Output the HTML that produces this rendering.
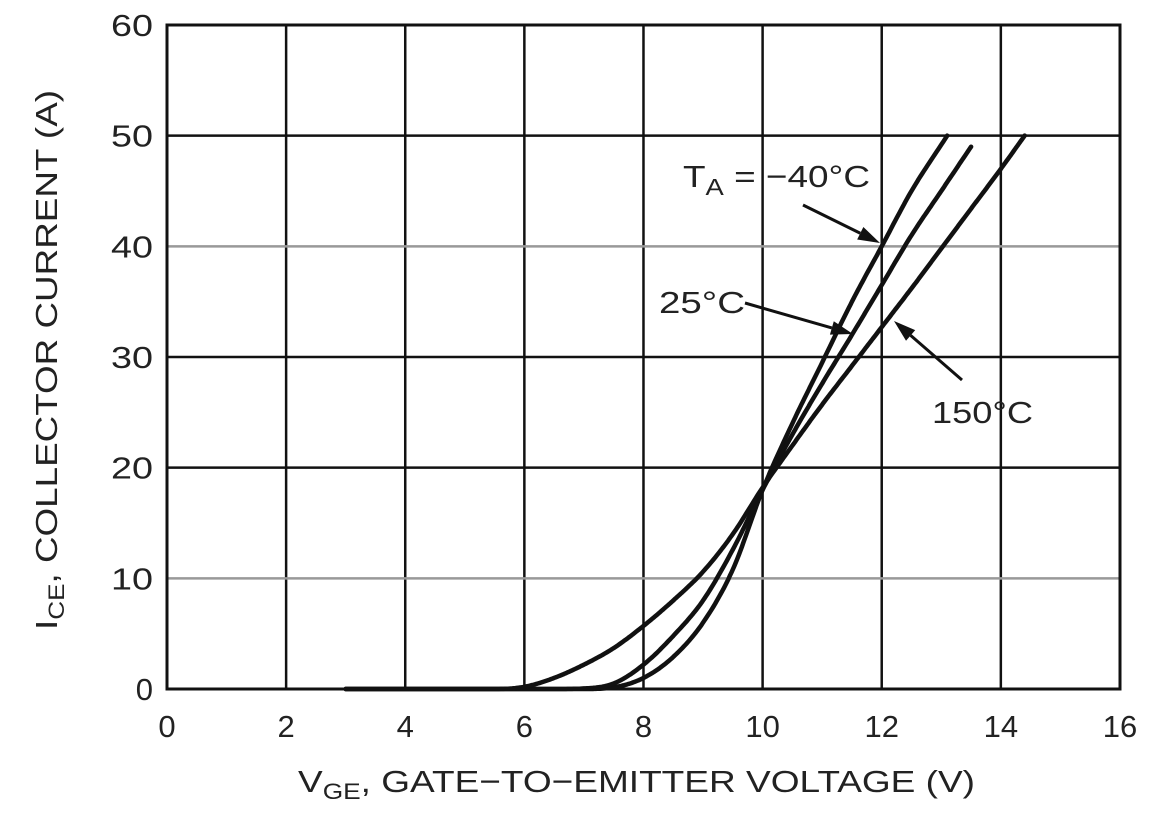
<!DOCTYPE html>
<html><head><meta charset="utf-8"><style>
body{margin:0;background:#fff}
svg text{font-family:"Liberation Sans",Arial,sans-serif;fill:#222}
</style></head><body>
<svg id="s" width="1157" height="819" viewBox="0 0 1157 819" xmlns="http://www.w3.org/2000/svg">
<g id="grid" stroke-width="2.5"></g>
<rect x="167" y="25" width="953" height="664" fill="none" stroke="#111" stroke-width="3"/>
<g id="curves" fill="none" stroke="#111" stroke-width="4.5" stroke-linejoin="round" stroke-linecap="round"></g>
<g font-size="31" text-anchor="end" id="yt"></g>
<g font-size="31" text-anchor="middle" id="xt"></g>
<text x="298" y="792" font-size="31" textLength="677" lengthAdjust="spacingAndGlyphs">V<tspan font-size="22" dy="7">GE</tspan><tspan dy="-7">, GATE−TO−EMITTER VOLTAGE (V)</tspan></text>
<text transform="translate(57,630) rotate(-90)" font-size="31" textLength="540" lengthAdjust="spacingAndGlyphs">I<tspan font-size="22" dy="7">CE</tspan><tspan dy="-7">, COLLECTOR CURRENT (A)</tspan></text>
<text x="683" y="187" font-size="31" textLength="187" lengthAdjust="spacingAndGlyphs">T<tspan font-size="23" dy="8">A</tspan><tspan dy="-8"> = −40°C</tspan></text>
<text x="659" y="313" font-size="31" textLength="86" lengthAdjust="spacingAndGlyphs">25°C</text>
<text x="932" y="423" font-size="31" textLength="101" lengthAdjust="spacingAndGlyphs">150°C</text>
<g id="arr" stroke="#111" stroke-width="3"></g>
</svg>
<script>
const X=v=>167+v*59.56, Y=v=>689-v*11.067;
const g=document.getElementById('grid');let h='';
for(let i=1;i<8;i++)h+=`<line x1="${X(2*i)}" y1="25" x2="${X(2*i)}" y2="689" stroke="#111"/>`;
for(let j=1;j<6;j++){const c=(j==1||j==4)?'#999':'#111';h+=`<line x1="167" y1="${Y(10*j)}" x2="1120" y2="${Y(10*j)}" stroke="${c}"/>`;}
g.innerHTML=h;
let yt='';for(let j=0;j<=6;j++)yt+=`<text x="153" y="${Y(10*j)+11}" ${j?'textLength="42" lengthAdjust="spacingAndGlyphs"':''}>${10*j}</text>`;
document.getElementById('yt').innerHTML=yt;
let xt='';for(let i=0;i<=8;i++)xt+=`<text x="${X(2*i)}" y="737">${2*i}</text>`;
document.getElementById('xt').innerHTML=xt;
const data=[
[[3,0],[6.5,0],[7,0],[7.5,0.15],[8,1],[8.5,2.9],[9,6],[9.5,10.8],[10,18],[10.5,24],[11,29.5],[11.5,35],[12,40],[12.5,45],[13.1,50]],
[[3,0],[6.5,0],[7,0.05],[7.5,0.5],[8,2.2],[8.5,4.8],[9,8],[9.5,12.6],[10,18],[10.5,23],[11,27.6],[11.5,32],[12,36.5],[12.5,41],[13,45],[13.5,49]],
[[3,0],[5.5,0],[6,0.2],[6.5,1],[7,2.2],[7.5,3.7],[8,5.7],[8.5,8],[9,10.6],[9.5,14],[10,18.2],[10.5,22],[11,25.7],[11.5,29.2],[12,32.7],[12.5,36.2],[13,39.8],[13.5,43.4],[14,47],[14.4,50]]];
function mono(d){const n=d.length,xs=d.map(p=>p[0]),ys=d.map(p=>p[1]);const dl=[],m=[];
for(let i=0;i<n-1;i++)dl.push((ys[i+1]-ys[i])/(xs[i+1]-xs[i]));
m[0]=dl[0];m[n-1]=dl[n-2];for(let i=1;i<n-1;i++)m[i]=(dl[i-1]*dl[i]<=0)?0:(dl[i-1]+dl[i])/2;
for(let i=0;i<n-1;i++){if(dl[i]==0){m[i]=m[i+1]=0;continue;}const a=m[i]/dl[i],b=m[i+1]/dl[i],s=a*a+b*b;if(s>9){const t=3/Math.sqrt(s);m[i]=t*a*dl[i];m[i+1]=t*b*dl[i];}}
let pts=[];for(let i=0;i<n-1;i++){const hh=xs[i+1]-xs[i];for(let k=0;k<20;k++){const t=k/20,t2=t*t,t3=t2*t;
const y=(2*t3-3*t2+1)*ys[i]+(t3-2*t2+t)*hh*m[i]+(-2*t3+3*t2)*ys[i+1]+(t3-t2)*hh*m[i+1];pts.push([X(xs[i]+t*hh),Y(y)]);}}
pts.push([X(xs[n-1]),Y(ys[n-1])]);return pts.map(p=>p[0].toFixed(1)+','+p[1].toFixed(1)).join(' ');}
document.getElementById('curves').innerHTML=data.map(d=>`<polyline points="${mono(d)}"/>`).join('');
function arrow(x1,y1,x2,y2){const dx=x2-x1,dy=y2-y1,L=Math.hypot(dx,dy),ux=dx/L,uy=dy/L,hl=22,hw=7;
const bx=x2-ux*hl,by=y2-uy*hl;return `<line x1="${x1}" y1="${y1}" x2="${bx}" y2="${by}"/><polygon stroke="none" fill="#111" points="${x2},${y2} ${bx-uy*hw},${by+ux*hw} ${bx+uy*hw},${by-ux*hw}"/>`;}
document.getElementById('arr').innerHTML=arrow(803,205,880,243)+arrow(745,303,853,334)+arrow(962,380,894,321);
</script>
</body></html>
